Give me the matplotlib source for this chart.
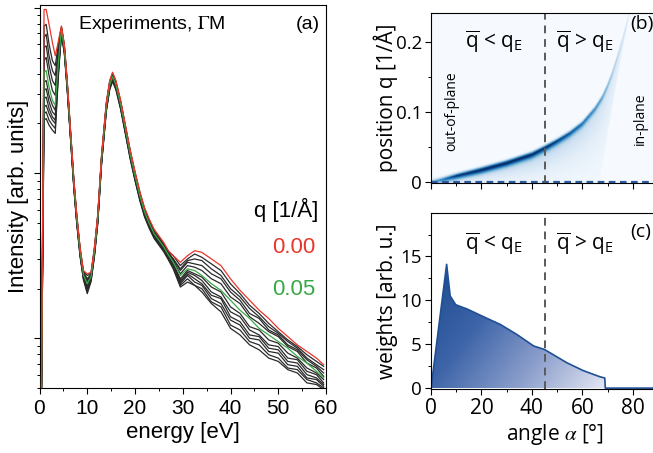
import numpy as np
import matplotlib.pyplot as plt
from matplotlib.colors import LinearSegmentedColormap, Normalize
from matplotlib.patches import Polygon
from matplotlib.ticker import MultipleLocator, LogLocator, NullFormatter, FuncFormatter

plt.rcParams['font.family'] = ['Liberation Sans', 'DejaVu Sans']
plt.rcParams['mathtext.fontset'] = 'custom'
plt.rcParams['mathtext.rm'] = 'Open Sans'
plt.rcParams['mathtext.it'] = 'Open Sans:italic'

# ---------------- (a) loss spectra, log10 of intensity ----------------
q_values = [0.00, 0.01, 0.02, 0.03, 0.04, 0.05, 0.06, 0.07, 0.08, 0.09, 0.10, 0.11]

# zero-loss tail and 5 eV region, one row per q
e_low = [0.4, 0.95, 1.4, 2.0, 2.7, 3.3, 3.9, 4.3]
log_low = [
    [0.65, 2.99, 2.99, 2.90, 2.79, 2.71, 2.79, 2.85],
    [0.65, 2.89, 2.90, 2.78, 2.68, 2.65, 2.77, 2.84],
    [0.65, 2.82, 2.84, 2.71, 2.62, 2.59, 2.74, 2.82],
    [0.65, 2.76, 2.77, 2.65, 2.56, 2.53, 2.71, 2.81],
    [0.65, 2.68, 2.70, 2.59, 2.50, 2.47, 2.68, 2.79],
    [0.65, 2.61, 2.62, 2.52, 2.44, 2.41, 2.65, 2.78],
    [0.65, 2.55, 2.56, 2.47, 2.41, 2.38, 2.64, 2.76],
    [0.65, 2.50, 2.51, 2.43, 2.37, 2.35, 2.62, 2.76],
    [0.65, 2.45, 2.46, 2.39, 2.34, 2.32, 2.61, 2.75],
    [0.65, 2.40, 2.41, 2.36, 2.32, 2.30, 2.59, 2.75],
    [0.65, 2.36, 2.37, 2.32, 2.29, 2.27, 2.58, 2.74],
    [0.65, 2.32, 2.33, 2.29, 2.26, 2.24, 2.56, 2.73],
]

# plasmon region, common shape for all q
e_mid1 = [4.6, 5.2, 5.8, 6.5, 7.2, 7.8, 8.5, 9.2]
log_mid1 = [2.89, 2.78, 2.56, 2.26, 1.96, 1.75, 1.55, 1.41]
e_dip = 10.0
log_dip = [1.39, 1.38, 1.36, 1.35, 1.34, 1.33, 1.32, 1.31, 1.30, 1.29, 1.28, 1.27]
e_mid2 = [10.8, 11.5, 12.2, 13.0, 14.0, 14.7, 15.3, 16.0, 17.0, 18.0, 19.0,
          20.0, 21.0, 22.0, 23.0, 24.0, 25.0, 26.0, 27.0]
log_mid2 = [1.40, 1.55, 1.75, 2.11, 2.43, 2.56, 2.61, 2.56, 2.44, 2.29, 2.14,
            2.01, 1.89, 1.79, 1.72, 1.66, 1.62, 1.58, 1.53]
mid_shift = [0.0, -0.006, -0.011, -0.015, -0.021, -0.026, -0.030, -0.036,
             -0.041, -0.045, -0.050, -0.056]

# high-energy tail, one row per q
e_high = [28, 29.5, 31, 32.5, 34, 36, 38, 40, 42, 44, 46, 48, 50, 52, 54, 56, 58, 59.5]
log_high = [
    [1.50, 1.46, 1.50, 1.53, 1.52, 1.48, 1.44, 1.36, 1.29, 1.23, 1.17, 1.12, 1.06, 1.01, 0.96, 0.92, 0.88, 0.84],
    [1.50, 1.44, 1.48, 1.51, 1.49, 1.45, 1.41, 1.33, 1.27, 1.20, 1.15, 1.09, 1.04, 0.99, 0.95, 0.90, 0.86, 0.83],
    [1.48, 1.42, 1.47, 1.48, 1.47, 1.42, 1.38, 1.30, 1.25, 1.18, 1.13, 1.07, 1.03, 0.98, 0.94, 0.88, 0.84, 0.81],
    [1.48, 1.41, 1.46, 1.45, 1.44, 1.39, 1.36, 1.28, 1.23, 1.15, 1.12, 1.05, 1.02, 0.96, 0.93, 0.87, 0.83, 0.79],
    [1.47, 1.39, 1.44, 1.43, 1.41, 1.36, 1.33, 1.25, 1.21, 1.13, 1.09, 1.04, 1.01, 0.95, 0.92, 0.85, 0.82, 0.77],
    [1.46, 1.38, 1.42, 1.41, 1.38, 1.33, 1.29, 1.23, 1.17, 1.12, 1.06, 1.02, 0.98, 0.94, 0.89, 0.85, 0.80, 0.76],
    [1.45, 1.36, 1.41, 1.39, 1.37, 1.31, 1.28, 1.19, 1.15, 1.07, 1.05, 0.99, 0.97, 0.91, 0.88, 0.82, 0.79, 0.75],
    [1.45, 1.35, 1.40, 1.38, 1.35, 1.28, 1.25, 1.16, 1.13, 1.05, 1.02, 0.96, 0.95, 0.88, 0.87, 0.80, 0.78, 0.73],
    [1.44, 1.34, 1.39, 1.36, 1.33, 1.26, 1.24, 1.13, 1.10, 1.02, 1.01, 0.94, 0.93, 0.86, 0.85, 0.78, 0.76, 0.72],
    [1.44, 1.33, 1.38, 1.34, 1.32, 1.24, 1.21, 1.11, 1.08, 1.00, 0.99, 0.92, 0.91, 0.84, 0.83, 0.76, 0.75, 0.71],
    [1.43, 1.32, 1.36, 1.32, 1.30, 1.22, 1.19, 1.08, 1.05, 0.98, 0.96, 0.90, 0.88, 0.82, 0.81, 0.75, 0.73, 0.70],
    [1.42, 1.31, 1.34, 1.32, 1.28, 1.21, 1.16, 1.06, 1.02, 0.96, 0.93, 0.88, 0.86, 0.81, 0.79, 0.73, 0.72, 0.69],
]

# ---------------- (b) q-position map ----------------
ridge_alpha = [0, 5, 10, 20, 30, 40, 45, 50, 55, 60, 65, 68, 70, 72, 74, 76, 78, 80]
ridge_q = [0.0, 0.004, 0.009, 0.018, 0.028, 0.040, 0.049, 0.059, 0.070, 0.084,
           0.105, 0.122, 0.138, 0.157, 0.180, 0.205, 0.232, 0.260]
ridge_strength = [0.4, 0.65, 0.85, 0.97, 0.97, 0.93, 0.88, 0.8, 0.72, 0.64,
                  0.55, 0.48, 0.4, 0.33, 0.26, 0.2, 0.14, 0.08]
edge_q = [0.0, 0.045, 0.088, 0.150, 0.217, 0.245]
edge_alpha = [67.0, 69.0, 71.0, 74.0, 77.6, 79.0]

# ---------------- (c) weights ----------------
alpha_w = [0, 6.2, 7.6, 9.8, 14.4, 20.3, 27.5, 34.1, 40.7, 45, 53.8, 60.3, 66.9, 68.9, 69.1, 90]
weight = [0, 14.1, 10.5, 9.5, 9.0, 8.2, 7.25, 6.1, 4.8, 4.4, 2.9, 2.0, 1.3, 1.15, 0, 0]

W, H = 653, 453
fig = plt.figure(figsize=(W / 100, H / 100), dpi=100)


def box(l, t, r, b):
    return [l / W, 1 - b / H, (r - l) / W, (b - t) / H]


ax_a = fig.add_axes(box(39.5, 5, 326, 388))
ax_b = fig.add_axes(box(431, 13, 658, 183))
ax_c = fig.add_axes(box(431, 213, 658, 389))

# ---- panel (a)
dark = '#2a2a2a'
for k in range(len(q_values)):
    e = np.r_[e_low, e_mid1, e_dip, e_mid2, e_high]
    lg = np.r_[log_low[k], np.array(log_mid1) + mid_shift[k], log_dip[k],
               np.array(log_mid2) + mid_shift[k], log_high[k]]
    if k == 0:
        col, z = '#e8372c', 4
    elif k == 5:
        col, z = '#37a845', 3
    else:
        col, z = dark, 2
    ax_a.plot(e, 10 ** lg, color=col, lw=0.9, zorder=z)

ax_a.set_yscale('log')
ax_a.set_xlim(0, 60)
ax_a.set_ylim(5, 1040)
ax_a.xaxis.set_major_locator(MultipleLocator(10))
ax_a.xaxis.set_minor_locator(MultipleLocator(5))
ax_a.yaxis.set_major_locator(LogLocator(base=10))
ax_a.yaxis.set_minor_locator(LogLocator(base=10, subs=np.arange(2, 10)))
ax_a.yaxis.set_major_formatter(NullFormatter())
ax_a.yaxis.set_minor_formatter(NullFormatter())
ax_a.tick_params(which='major', direction='out', length=4.5, width=0.8, labelsize=15)
ax_a.tick_params(which='minor', direction='out', length=2.5, width=0.7)
ax_a.set_xlabel('energy [eV]', fontsize=16)
ax_a.set_ylabel('Intensity [arb. units]', fontsize=16)
ax_a.xaxis.set_label_coords(0.5, -0.09)
ax_a.yaxis.set_label_coords(-0.035, 0.5)
ax_a.text(0.134, 0.948, r'Experiments, $\Gamma$M', transform=ax_a.transAxes,
          fontsize=14, va='center', math_fontfamily='stix')
ax_a.text(0.978, 0.948, '(a)', transform=ax_a.transAxes, fontsize=14,
          ha='right', va='center')
ax_a.text(0.972, 0.465, 'q [1/Å]', transform=ax_a.transAxes, fontsize=16,
          ha='right', va='center')
ax_a.text(0.962, 0.368, '0.00', transform=ax_a.transAxes, fontsize=16,
          ha='right', va='center', color='#e8372c')
ax_a.text(0.962, 0.256, '0.05', transform=ax_a.transAxes, fontsize=16,
          ha='right', va='center', color='#37a845')

sans = ['Open Sans', 'DejaVu Sans']
qbar_lt = r'$\overline{\mathrm{q}}$ < q$_{\mathrm{E}}$'
qbar_gt = r'$\overline{\mathrm{q}}$ > q$_{\mathrm{E}}$'

# ---- panel (b)
aa = np.linspace(0, 90, 541)
qq = np.linspace(-0.002, 0.241, 400)
A, Q = np.meshgrid(aa, qq)
qr = np.interp(A, ridge_alpha, ridge_q)
s = np.interp(A, ridge_alpha, ridge_strength)
d = Q - qr
core = np.where(d > 0, np.exp(-(d / 0.003) ** 2), np.exp(-(d / 0.0065) ** 2))
tail = np.where(d < 0, 0.5 * np.exp(d / (0.4 * qr + 0.004)), 0.0)
img = s * (0.85 * core + tail)
cut = (A > np.interp(Q, edge_q, edge_alpha)) & (d < 0)
img = np.where(cut, 0.0, img) + 0.005
ax_b.imshow(img, extent=(0, 90, -0.002, 0.241), origin='lower', aspect='auto',
            cmap='Blues', norm=Normalize(0, 1.1), interpolation='bilinear')
ax_b.axhline(0, color='#2d5a9e', lw=1.6, ls=(0, (3, 2)))
ax_b.axvline(45, color='#5a5a5a', lw=1.4, ls=(0, (4, 3)))
ax_b.set_xlim(0, 90)
ax_b.set_ylim(-0.002, 0.241)
ax_b.xaxis.set_major_locator(MultipleLocator(20))
ax_b.xaxis.set_minor_locator(MultipleLocator(10))
ax_b.xaxis.set_major_formatter(NullFormatter())
ax_b.yaxis.set_major_locator(MultipleLocator(0.1))
ax_b.yaxis.set_minor_locator(MultipleLocator(0.05))
ax_b.yaxis.set_major_formatter(FuncFormatter(lambda v, p: '0' if abs(v) < 1e-9 else f'{v:.1f}'))
ax_b.set_ylabel('position q [1/Å]', fontsize=15, family=sans)
ax_b.yaxis.set_label_coords(-0.145, 0.5)
ax_b.text(25, 0.2, qbar_lt, fontsize=15, family=sans, ha='center', va='center')
ax_b.text(61, 0.2, qbar_gt, fontsize=15, family=sans, ha='center', va='center')
ax_b.text(79, 0.225, '(b)', fontsize=14, family=sans, va='center')
ax_b.text(8.3, 0.1, 'out-of-plane', fontsize=10, family=sans, rotation=90,
          ha='center', va='center')
ax_b.text(83, 0.09, 'in-plane', fontsize=10, family=sans, rotation=90,
          ha='center', va='center')

# ---- panel (c)
grad_cmap = LinearSegmentedColormap.from_list('wgrad', ['#e6e8f4', '#8c9fcc', '#3d64a8', '#1b4a8e'])
ga = np.linspace(0, 70, 300)
gw = np.linspace(0, 15, 200)
GA, GW = np.meshgrid(ga, gw)
shade = 1 - (0.65 * GA / 70 + 0.35 * (1 - GW / 14))
verts = np.column_stack([np.r_[alpha_w, alpha_w[::-1]], np.r_[weight, np.zeros(len(weight))]])
outline = Polygon(verts, closed=True, facecolor='none', edgecolor='none')
ax_c.add_patch(outline)
im = ax_c.imshow(shade, extent=(0, 70, 0, 15), origin='lower', aspect='auto',
                 cmap=grad_cmap, vmin=0, vmax=1)
im.set_clip_path(outline)
ax_c.plot(alpha_w, weight, color='#1f4f96', lw=1.2)
ax_c.axvline(45, color='#5a5a5a', lw=1.4, ls=(0, (4, 3)))
ax_c.set_xlim(0, 90)
ax_c.set_ylim(-0.1, 19.95)
ax_c.xaxis.set_major_locator(MultipleLocator(20))
ax_c.xaxis.set_minor_locator(MultipleLocator(10))
ax_c.yaxis.set_major_locator(MultipleLocator(5))
ax_c.yaxis.set_minor_locator(MultipleLocator(2.5))
ax_c.set_xlabel(r'angle $\alpha$ [°]', fontsize=15, family=sans, math_fontfamily='stix')
ax_c.set_ylabel('weights [arb. u.]', fontsize=15, family=sans)
ax_c.xaxis.set_label_coords(0.546, -0.19)
ax_c.yaxis.set_label_coords(-0.145, 0.5)
ax_c.text(25, 16.4, qbar_lt, fontsize=15, family=sans, ha='center', va='center')
ax_c.text(61, 16.4, qbar_gt, fontsize=15, family=sans, ha='center', va='center')
ax_c.text(79, 17.8, '(c)', fontsize=14, family=sans, va='center')

for ax in (ax_b, ax_c):
    ax.tick_params(which='major', direction='out', length=4, width=0.8,
                   labelsize=13.5, pad=2.5)
    ax.tick_params(which='minor', direction='out', length=2.5, width=0.7)
    for lab in ax.get_xticklabels() + ax.get_yticklabels():
        lab.set_family(sans)
ax_c.tick_params(axis='x', labelsize=15)

fig.savefig('out.png', dpi=100)
